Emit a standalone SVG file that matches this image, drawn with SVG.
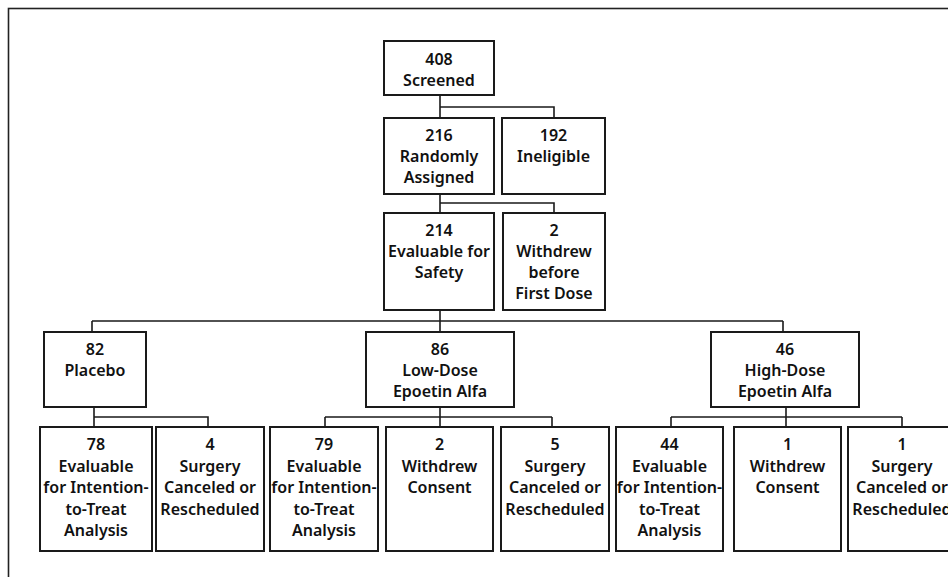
<svg xmlns="http://www.w3.org/2000/svg" width="948" height="577" viewBox="0 0 948 577">
<style>
.b{fill:#fff;stroke:#1a1a1a;stroke-width:2}
.c{fill:none;stroke:#1a1a1a;stroke-width:1.6}
text{font-family:"Noto Sans","Open Sans","Liberation Sans",sans-serif;font-weight:600;font-size:16px;fill:#111;text-anchor:middle}
</style>
<rect x="0" y="0" width="948" height="577" fill="#fff"/>
<rect x="8.5" y="8.5" width="960" height="600" fill="none" stroke="#222" stroke-width="1.6"/>
<g id="connectors" class="c">
<path d="M440 95V118M440 107H554V118"/>
<path d="M440 194V213M440 203H554V213"/>
<path d="M440 310V332M92 321H783M92 321V332M783 321V332"/>
<path d="M94 407V427M94 417H208V427"/>
<path d="M440 407V427M325 417H552M325 417V427M552 417V427"/>
<path d="M786 407V427M671 417H902M671 417V427M902 417V427"/>
</g>
<g id="n408"><rect class="b" x="384" y="41" width="110" height="54"/><text x="439" y="65">408<tspan x="439" dy="21">Screened</tspan></text></g>
<g id="n216"><rect class="b" x="384" y="118" width="110" height="76"/><text x="439" y="141">216<tspan x="439" dy="21">Randomly</tspan><tspan x="439" dy="21">Assigned</tspan></text></g>
<g id="n192"><rect class="b" x="502" y="118" width="103" height="76"/><text x="553.5" y="141">192<tspan x="553.5" dy="21">Ineligible</tspan></text></g>
<g id="n214"><rect class="b" x="384" y="213" width="110" height="97"/><text x="439" y="236">214<tspan x="439" dy="21">Evaluable for</tspan><tspan x="439" dy="21">Safety</tspan></text></g>
<g id="n2w"><rect class="b" x="503" y="213" width="102" height="97"/><text x="554" y="236">2<tspan x="554" dy="21">Withdrew</tspan><tspan x="554" dy="21">before</tspan><tspan x="554" dy="21">First Dose</tspan></text></g>
<g id="n82"><rect class="b" x="44" y="332" width="102" height="75"/><text x="95" y="355">82<tspan x="95" dy="21">Placebo</tspan></text></g>
<g id="n86"><rect class="b" x="366" y="332" width="148" height="75"/><text x="440" y="355">86<tspan x="440" dy="21">Low-Dose</tspan><tspan x="440" dy="21">Epoetin Alfa</tspan></text></g>
<g id="n46"><rect class="b" x="711" y="332" width="148" height="75"/><text x="785" y="355">46<tspan x="785" dy="21">High-Dose</tspan><tspan x="785" dy="21">Epoetin Alfa</tspan></text></g>
<g id="n78"><rect class="b" x="40" y="427" width="112" height="124"/><text x="96" y="450">78<tspan x="96" dy="21.5">Evaluable</tspan><tspan x="96" dy="21.5">for Intention-</tspan><tspan x="96" dy="21.5">to-Treat</tspan><tspan x="96" dy="21.5">Analysis</tspan></text></g>
<g id="n4"><rect class="b" x="156" y="427" width="108" height="124"/><text x="210" y="450">4<tspan x="210" dy="21.5">Surgery</tspan><tspan x="210" dy="21.5">Canceled or</tspan><tspan x="210" dy="21.5">Rescheduled</tspan></text></g>
<g id="n79"><rect class="b" x="270" y="427" width="108" height="124"/><text x="324" y="450">79<tspan x="324" dy="21.5">Evaluable</tspan><tspan x="324" dy="21.5">for Intention-</tspan><tspan x="324" dy="21.5">to-Treat</tspan><tspan x="324" dy="21.5">Analysis</tspan></text></g>
<g id="n2c"><rect class="b" x="386" y="427" width="107" height="124"/><text x="439.5" y="450">2<tspan x="439.5" dy="21.5">Withdrew</tspan><tspan x="439.5" dy="21.5">Consent</tspan></text></g>
<g id="n5"><rect class="b" x="501" y="427" width="108" height="124"/><text x="555" y="450">5<tspan x="555" dy="21.5">Surgery</tspan><tspan x="555" dy="21.5">Canceled or</tspan><tspan x="555" dy="21.5">Rescheduled</tspan></text></g>
<g id="n44"><rect class="b" x="616" y="427" width="107" height="124"/><text x="669.5" y="450">44<tspan x="669.5" dy="21.5">Evaluable</tspan><tspan x="669.5" dy="21.5">for Intention-</tspan><tspan x="669.5" dy="21.5">to-Treat</tspan><tspan x="669.5" dy="21.5">Analysis</tspan></text></g>
<g id="n1c"><rect class="b" x="734" y="427" width="107" height="124"/><text x="787.5" y="450">1<tspan x="787.5" dy="21.5">Withdrew</tspan><tspan x="787.5" dy="21.5">Consent</tspan></text></g>
<g id="n1s"><rect class="b" x="848" y="427" width="108" height="124"/><text x="902" y="450">1<tspan x="902" dy="21.5">Surgery</tspan><tspan x="902" dy="21.5">Canceled or</tspan><tspan x="902" dy="21.5">Rescheduled</tspan></text></g>
</svg>
